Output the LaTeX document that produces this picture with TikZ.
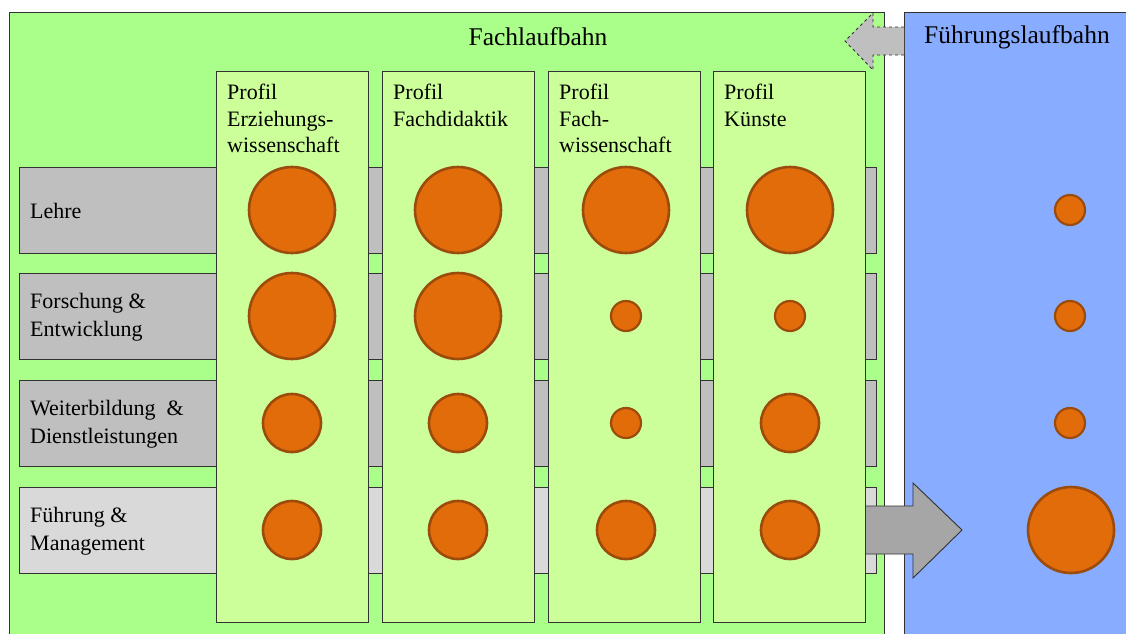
\documentclass[tikz,border=0pt]{standalone}
\usepackage{fontspec}
\setmainfont{Liberation Serif}
\begin{document}
\definecolor{outergreen}{RGB}{170,254,138}
\definecolor{colgreen}{RGB}{204,255,153}
\definecolor{careerblue}{RGB}{136,172,255}
\definecolor{bargray}{RGB}{191,191,191}
\definecolor{barlight}{RGB}{217,217,217}
\definecolor{arrowgray}{RGB}{166,166,166}
\definecolor{dot}{RGB}{227,108,10}
\definecolor{dotrim}{RGB}{155,75,12}
\definecolor{edge}{RGB}{50,50,50}
\begin{tikzpicture}[x=1pt,y=-1pt,
  every node/.style={font=\fontsize{22}{26.5}\selectfont},
  panel/.style={draw=edge,line width=0.9pt,rectangle,inner sep=0pt,anchor=north west},
  bar/.style={panel,fill=bargray,minimum width=857,minimum height=86},
  profilecol/.style={panel,fill=colgreen,minimum width=152,minimum height=551},
  rowlabel/.style={anchor=west,align=left,inner sep=0pt,font=\fontsize{22}{27.5}\selectfont},
  collabel/.style={anchor=north west,align=left,inner sep=0pt},
  title/.style={font=\fontsize{25.5}{30}\selectfont,inner sep=0pt},
  bigdot/.style={circle,fill=dot,draw=dotrim,line width=2.6pt,minimum size=86,inner sep=0pt},
  middot/.style={bigdot,minimum size=58},
  smalldot/.style={bigdot,minimum size=30,line width=2.2pt}]
\useasboundingbox (0,0) rectangle (1126,633);
\begin{scope}
\clip (0,0) rectangle (1126,633);
% career track panels
\node[panel,fill=outergreen,minimum width=875,minimum height=640] (fach) at (9,12) {};
\node[panel,fill=careerblue,minimum width=240,minimum height=640] (fuehr) at (904,12) {};
\end{scope}
\node[title] (fachtitle) at (538,37) {Fachlaufbahn};
\node[title] (fuehrtitle) at (1017,37) {Führungslaufbahn};
% dashed arrow pointing back to the Fachlaufbahn
\draw[draw=edge,dashed,line width=0.9pt,fill=bargray]
  (904,27) -- (873,27) -- (873,13) -- (845,41) -- (873,70) -- (873,55) -- (904,55);
% task rows
\node[bar] (lehre) at (19,167) {};
\node[bar] (forschung) at (19,273) {};
\node[bar] (weiter) at (19,380) {};
\node[bar,fill=barlight] (management) at (19,487) {};
\node[rowlabel] at ([xshift=11pt,yshift=-1pt]lehre.west) {Lehre};
\node[rowlabel] at ([xshift=11pt,yshift=-1pt]forschung.west) {Forschung \&\\Entwicklung};
\node[rowlabel] at ([xshift=11pt,yshift=-1pt]weiter.west) {Weiterbildung \ \&\\Dienstleistungen};
\node[rowlabel] at ([xshift=11pt,yshift=-1pt]management.west) {Führung \&\\Management};
% profile columns
\node[profilecol] (p1) at (216,71) {};
\node[profilecol] (p2) at (382,71) {};
\node[profilecol] (p3) at (548,71) {};
\node[profilecol] (p4) at (713,71) {};
\node[collabel] at (227,84) {Profil\\Erziehungs-\\wissenschaft};
\node[collabel] at (393,84) {Profil\\Fachdidaktik};
\node[collabel] at (559,84) {Profil\\Fach-\\wissenschaft};
\node[collabel] at (724,84) {Profil\\Künste};
% weighting dots
\node[bigdot] (d11) at (292,210) {};
\node[bigdot] (d12) at (458,210) {};
\node[bigdot] (d13) at (626,210) {};
\node[bigdot] (d14) at (790,210) {};
\node[smalldot] (d15) at (1070,210) {};
\node[bigdot] (d21) at (292,316) {};
\node[bigdot] (d22) at (458,316) {};
\node[smalldot] (d23) at (626,316) {};
\node[smalldot] (d24) at (790,316) {};
\node[smalldot] (d25) at (1070,316) {};
\node[middot] (d31) at (292,423) {};
\node[middot] (d32) at (458,423) {};
\node[smalldot] (d33) at (626,423) {};
\node[middot] (d34) at (790,423) {};
\node[smalldot] (d35) at (1070,423) {};
\node[middot] (d41) at (292,530) {};
\node[middot] (d42) at (458,530) {};
\node[middot] (d43) at (626,530) {};
\node[middot] (d44) at (790,530) {};
\node[bigdot] (d45) at (1071,530) {};
% transition arrow into the Führungslaufbahn
\draw[draw=edge,line width=0.9pt,fill=arrowgray]
  (866,506) -- (913,506) -- (913,483) -- (962,530) -- (913,578) -- (913,554) -- (866,554);
\end{tikzpicture}
\end{document}
